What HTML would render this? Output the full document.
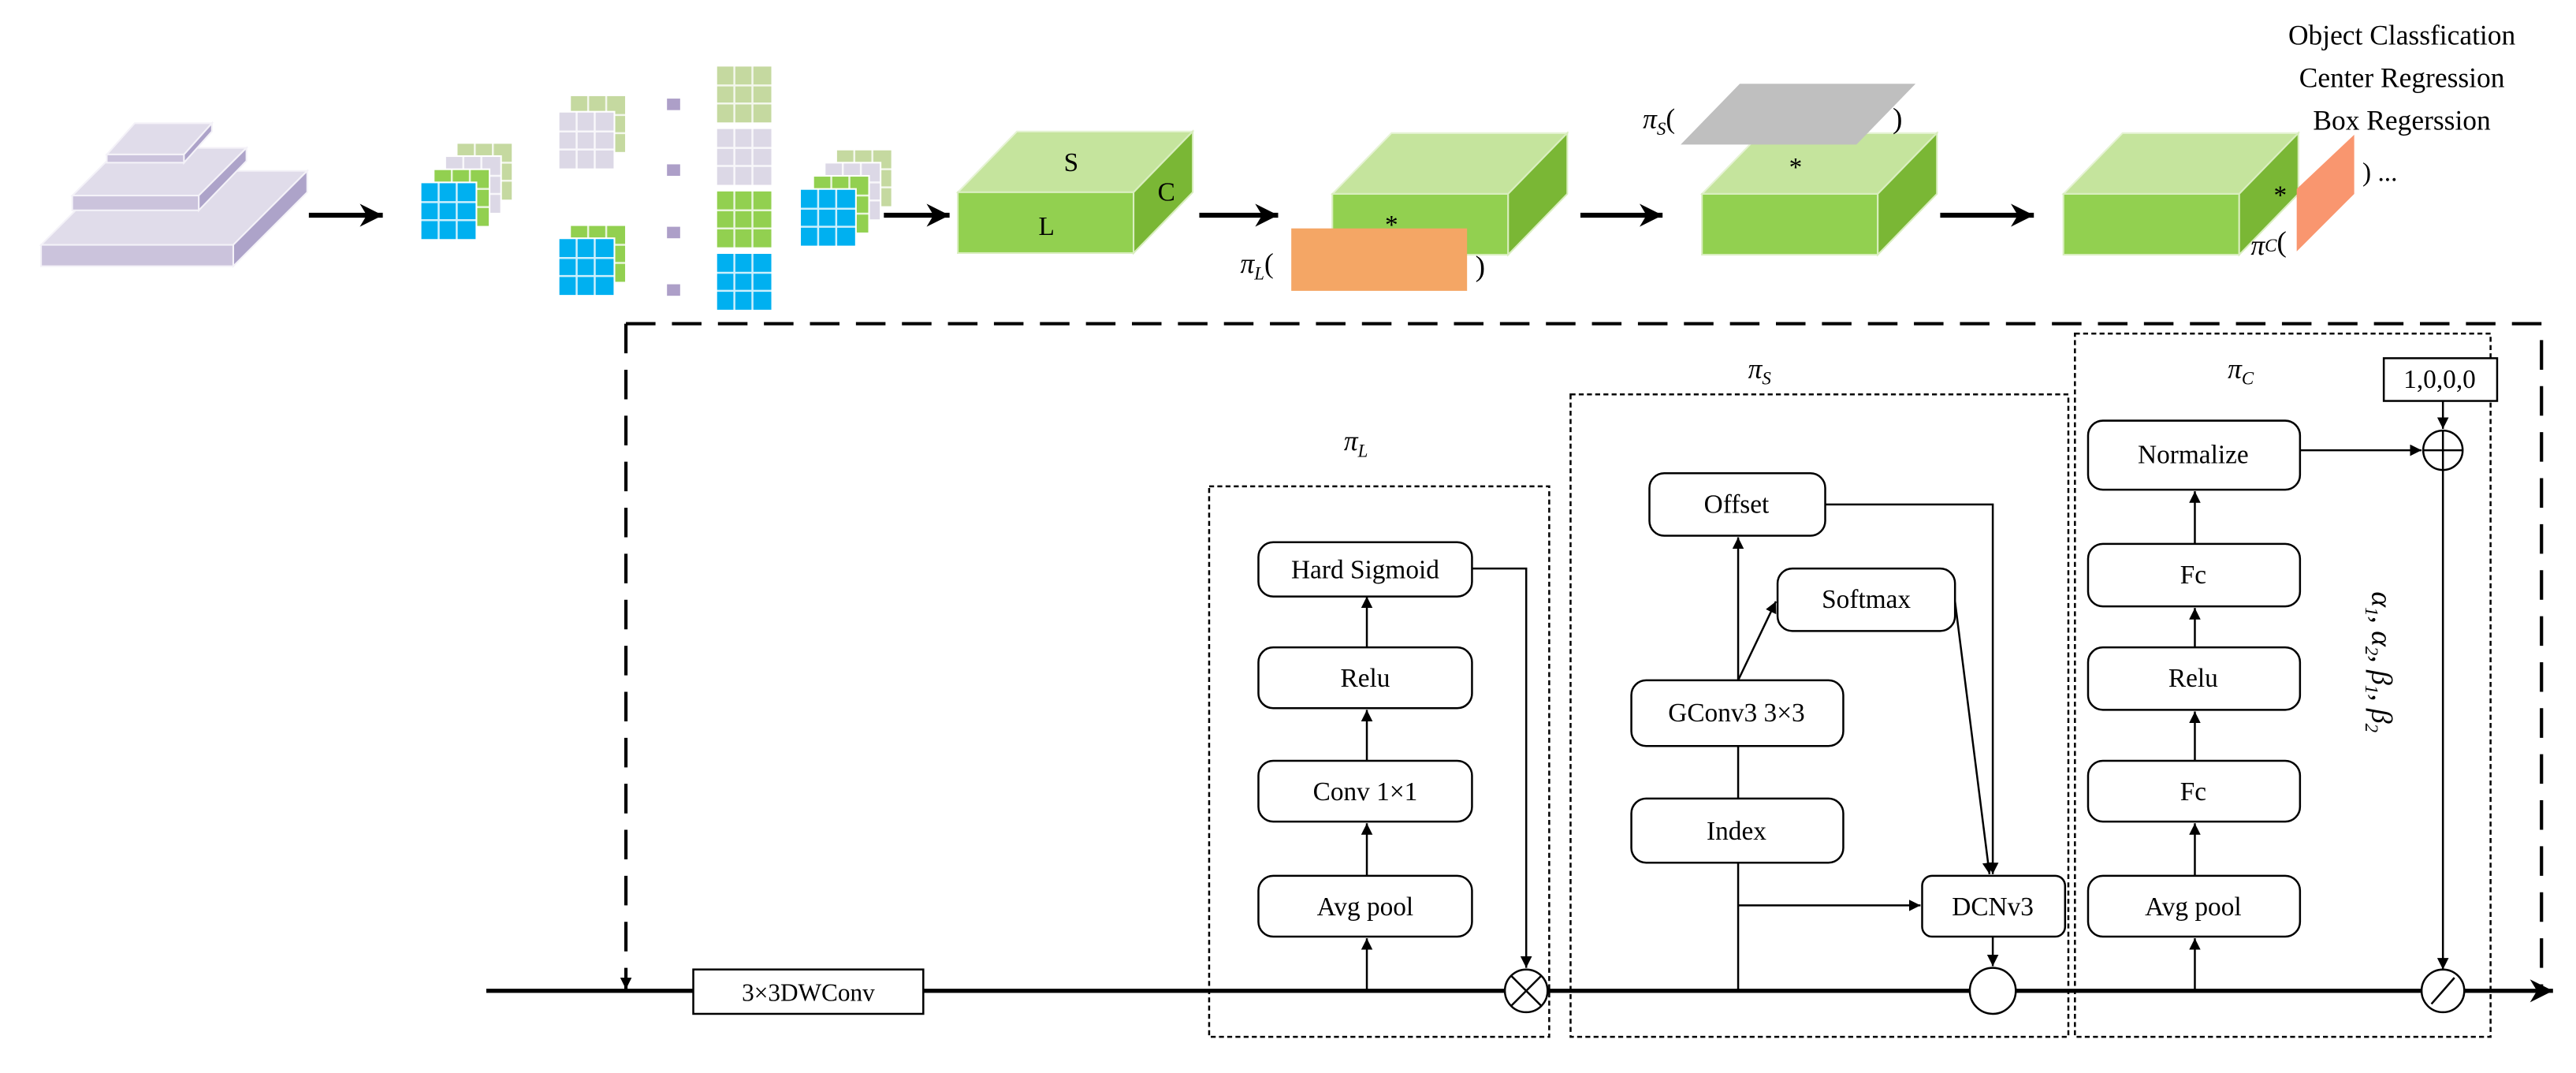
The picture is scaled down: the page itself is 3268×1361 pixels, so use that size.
<!DOCTYPE html>
<html><head><meta charset="utf-8"><style>html,body{margin:0;padding:0;background:#fff}svg{display:block}</style></head><body>
<svg width="3268" height="1361" viewBox="0 0 1568 653" preserveAspectRatio="none" xmlns="http://www.w3.org/2000/svg" font-family="Liberation Serif, serif">
<defs>
<marker id="a" viewBox="0 0 10 10" refX="10" refY="5" markerWidth="7" markerHeight="7" orient="auto" markerUnits="userSpaceOnUse"><path d="M0,0L10,5L0,10z" fill="#000"/></marker>
<marker id="b" viewBox="0 0 10 10" refX="10" refY="5" markerWidth="14" markerHeight="14" orient="auto" markerUnits="userSpaceOnUse"><path d="M0,0L10,5L0,10L3,5z" fill="#000"/></marker>
<g id="cube"><polygon points="0,0 36,-37 143,-37 107,0" fill="#c5e49d" stroke="#e6f3d5"/><rect x="0" y="0" width="107" height="37" fill="#92d050" stroke="#d9eebf"/><polygon points="107,0 143,-37 143,0 107,37" fill="#7ab735" stroke="#d9eebf"/></g>
<g id="blk"><rect width="34" height="35" fill="currentColor"/><path d="M11,0V35M22,0V35M0,12H34M0,23H34" stroke="#fff" stroke-width="1.2" opacity=".8"/><rect width="34" height="35" fill="none" stroke="#fff" stroke-width="1"/></g>
</defs>

<g stroke="#f4f2f8" stroke-width="1">
<polygon points="25,149 142,149 187,104 70,104" fill="#e0dcea"/><rect x="25" y="149" width="117" height="13" fill="#cbc3dc"/><polygon points="142,149 187,104 187,117 142,162" fill="#ada3c9"/>
<polygon points="44,119 121,119 150,90 73,90" fill="#e0dcea"/><rect x="44" y="119" width="77" height="9" fill="#cbc3dc"/><polygon points="121,119 150,90 150,98 121,128" fill="#ada3c9"/>
<polygon points="65,94 112,94 129,75 82,75" fill="#e0dcea"/><rect x="65" y="94" width="47" height="5" fill="#cbc3dc"/><polygon points="112,94 129,75 129,80 112,99" fill="#ada3c9"/>
</g>
<line x1="188" y1="131" x2="233" y2="131" stroke="#000" stroke-width="3" marker-end="url(#b)"/>

<use href="#blk" x="278" y="87" color="#c5d9a0"/><use href="#blk" x="271" y="95" color="#dcd8e6"/><use href="#blk" x="264" y="103" color="#92d050"/><use href="#blk" x="256" y="111" color="#00b0f0"/>
<use href="#blk" x="347" y="58" color="#c5d9a0"/><use href="#blk" x="340" y="68" color="#dcd8e6"/>
<use href="#blk" x="347" y="137" color="#92d050"/><use href="#blk" x="340" y="145" color="#00b0f0"/>
<g fill="#ad9fc8"><rect x="406" y="60" width="8" height="7"/><rect x="406" y="100" width="8" height="7"/><rect x="406" y="138" width="8" height="7"/><rect x="406" y="173" width="8" height="7"/></g>
<use href="#blk" x="436" y="40" color="#c5d9a0"/><use href="#blk" x="436" y="78" color="#dcd8e6"/><use href="#blk" x="436" y="116" color="#92d050"/><use href="#blk" x="436" y="154" color="#00b0f0"/>
<use href="#blk" x="509" y="91" color="#c5d9a0"/><use href="#blk" x="502" y="99" color="#dcd8e6"/><use href="#blk" x="495" y="107" color="#92d050"/><use href="#blk" x="487" y="115" color="#00b0f0"/>
<line x1="538" y1="131" x2="578" y2="131" stroke="#000" stroke-width="3" marker-end="url(#b)"/>

<use href="#cube" x="583" y="117"/>
<text x="652" y="104" font-size="16" text-anchor="middle">S</text><text x="637" y="143" font-size="16" text-anchor="middle">L</text><text x="710" y="122" font-size="16" text-anchor="middle">C</text>
<line x1="730" y1="131" x2="778" y2="131" stroke="#000" stroke-width="3" marker-end="url(#b)"/>

<use href="#cube" x="811" y="118"/>
<text x="847" y="142" font-size="16" text-anchor="middle">*</text>
<rect x="786" y="139" width="107" height="38" fill="#f4a665"/>
<text x="755" y="166" font-size="17" font-style="italic">π<tspan font-size="11" dy="4">L</tspan><tspan dy="-4" font-style="normal">(</tspan></text>
<text x="898" y="168" font-size="18">)</text>
<line x1="962" y1="131" x2="1012" y2="131" stroke="#000" stroke-width="3" marker-end="url(#b)"/>

<use href="#cube" x="1036" y="118"/>
<polygon points="1059,51 1166,51 1130,88 1023,88" fill="#bfbfbf"/>
<text x="1093" y="107" font-size="16" text-anchor="middle">*</text>
<text x="1000" y="78" font-size="17" font-style="italic">π<tspan font-size="11" dy="4">S</tspan><tspan dy="-4" font-style="normal">(</tspan></text>
<text x="1152" y="78" font-size="18">)</text>
<line x1="1181" y1="131" x2="1238" y2="131" stroke="#000" stroke-width="3" marker-end="url(#b)"/>

<use href="#cube" x="1256" y="118"/>
<polygon points="1433,82 1433,118 1398,153 1398,115" fill="#f9966f"/>
<text x="1388" y="124" font-size="16" text-anchor="middle">*</text>
<text x="1370" y="155" font-size="17" font-style="italic">π<tspan font-size="11" dy="-2">C</tspan><tspan font-style="normal" font-size="18">(</tspan></text>
<text x="1438" y="110" font-size="16">) ...</text>
<text x="1462" y="27" font-size="17" text-anchor="middle">Object Classfication</text>
<text x="1462" y="53" font-size="17" text-anchor="middle">Center Regression</text>
<text x="1462" y="79" font-size="17" text-anchor="middle">Box Regerssion</text>

<path d="M381,197H1547V603" fill="none" stroke="#000" stroke-width="2" stroke-dasharray="18,10"/>
<line x1="381" y1="197" x2="381" y2="602" stroke="#000" stroke-width="2" stroke-dasharray="18,10" marker-end="url(#a)"/>

<line x1="296" y1="603" x2="1554" y2="603" stroke="#000" stroke-width="2.5" marker-end="url(#b)"/>
<rect x="422" y="590" width="140" height="27" fill="#fff" stroke="#000" stroke-width="1.2"/>
<text x="492" y="609" font-size="15" text-anchor="middle">3×3DWConv</text>

<g fill="none" stroke="#000" stroke-width="1.2" stroke-dasharray="3,2">
<rect x="736" y="296" width="207" height="335"/>
<rect x="956" y="240" width="303" height="391"/>
<rect x="1263" y="203" width="253" height="428"/>
</g>
<text x="818" y="274" font-size="17" font-style="italic">π<tspan font-size="11" dy="4">L</tspan></text>
<text x="1064" y="230" font-size="17" font-style="italic">π<tspan font-size="11" dy="4">S</tspan></text>
<text x="1356" y="230" font-size="17" font-style="italic">π<tspan font-size="11" dy="4">C</tspan></text>

<g stroke="#000" stroke-width="1.2" fill="none">
<line x1="832" y1="603" x2="832" y2="571" marker-end="url(#a)"/>
<line x1="832" y1="533" x2="832" y2="501" marker-end="url(#a)"/>
<line x1="832" y1="463" x2="832" y2="432" marker-end="url(#a)"/>
<line x1="832" y1="394" x2="832" y2="363" marker-end="url(#a)"/>
<polyline points="896,346 929,346 929,589" marker-end="url(#a)"/>
<line x1="1058" y1="603" x2="1058" y2="525"/>
<line x1="1058" y1="486" x2="1058" y2="454"/>
<line x1="1058" y1="414" x2="1058" y2="327" marker-end="url(#a)"/>
<line x1="1058" y1="414" x2="1081" y2="366" marker-end="url(#a)"/>
<polyline points="1111,307 1213,307 1213,532" marker-end="url(#a)"/>
<line x1="1190" y1="366" x2="1211" y2="532" marker-end="url(#a)"/>
<line x1="1058" y1="551" x2="1169" y2="551" marker-end="url(#a)"/>
<line x1="1213" y1="570" x2="1213" y2="588" marker-end="url(#a)"/>
<line x1="1336" y1="603" x2="1336" y2="571" marker-end="url(#a)"/>
<line x1="1336" y1="533" x2="1336" y2="501" marker-end="url(#a)"/>
<line x1="1336" y1="463" x2="1336" y2="433" marker-end="url(#a)"/>
<line x1="1336" y1="394" x2="1336" y2="370" marker-end="url(#a)"/>
<line x1="1336" y1="331" x2="1336" y2="299" marker-end="url(#a)"/>
<line x1="1400" y1="274" x2="1474" y2="274" marker-end="url(#a)"/>
<line x1="1487" y1="244" x2="1487" y2="261" marker-end="url(#a)"/>
<line x1="1487" y1="286" x2="1487" y2="590" marker-end="url(#a)"/>
</g>

<g fill="#fff" stroke="#000" stroke-width="1.2">
<rect x="766" y="330" width="130" height="33" rx="9"/>
<rect x="766" y="394" width="130" height="37" rx="9"/>
<rect x="766" y="463" width="130" height="37" rx="9"/>
<rect x="766" y="533" width="130" height="37" rx="9"/>
<rect x="1004" y="288" width="107" height="38" rx="9"/>
<rect x="1082" y="346" width="108" height="38" rx="9"/>
<rect x="993" y="414" width="129" height="40" rx="9"/>
<rect x="993" y="486" width="129" height="39" rx="9"/>
<rect x="1170" y="533" width="87" height="37" rx="6"/>
<rect x="1271" y="256" width="129" height="42" rx="9"/>
<rect x="1271" y="331" width="129" height="38" rx="9"/>
<rect x="1271" y="394" width="129" height="38" rx="9"/>
<rect x="1271" y="463" width="129" height="37" rx="9"/>
<rect x="1271" y="533" width="129" height="37" rx="9"/>
<rect x="1451" y="218" width="69" height="26"/>
</g>
<g font-size="16" text-anchor="middle">
<text x="831" y="352">Hard Sigmoid</text><text x="831" y="418">Relu</text><text x="831" y="487">Conv 1×1</text><text x="831" y="557">Avg pool</text>
<text x="1057" y="312">Offset</text><text x="1136" y="370">Softmax</text><text x="1057" y="439">GConv3 3×3</text><text x="1057" y="511">Index</text><text x="1213" y="557">DCNv3</text>
<text x="1335" y="282">Normalize</text><text x="1335" y="355">Fc</text><text x="1335" y="418">Relu</text><text x="1335" y="487">Fc</text><text x="1335" y="557">Avg pool</text>
<text x="1485" y="236">1,0,0,0</text>
</g>

<g stroke="#000" stroke-width="1.2" fill="#fff">
<circle cx="929" cy="603" r="13"/><path d="M920,594L938,612M938,594L920,612"/>
<circle cx="1213" cy="603" r="14"/>
<circle cx="1487" cy="274" r="12"/><path d="M1475,274H1499M1487,262V286"/>
<circle cx="1487" cy="603" r="13"/><path d="M1480,611L1494,595"/>
</g>
<text transform="translate(1444,360) rotate(90)" font-size="18" font-style="italic">α<tspan font-size="11" dy="4">1</tspan><tspan dy="-4">, α</tspan><tspan font-size="11" dy="4">2</tspan><tspan dy="-4">, β</tspan><tspan font-size="11" dy="4">1</tspan><tspan dy="-4">, β</tspan><tspan font-size="11" dy="4">2</tspan></text>
</svg>
</body></html>
